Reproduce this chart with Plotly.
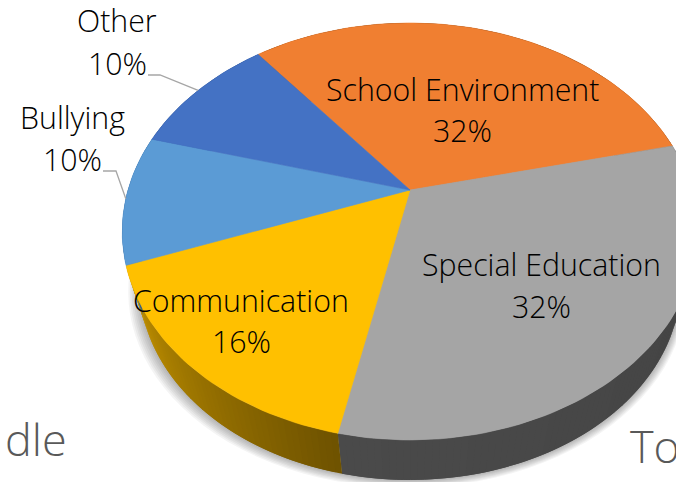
import math
import plotly.graph_objects as go

# Chart data
categories = ["School Environment", "Special Education", "Communication", "Bullying", "Other"]
shares = [32, 32, 16, 10, 10]
top_colors = ["#F07F31", "#A5A5A5", "#FFC000", "#5B9BD5", "#4472C4"]
side_left = ["#7A3E12", "#4A4A4A", "#C49300", "#2F5F8F", "#2A4A80"]
side_right = ["#7A3E12", "#424242", "#6E5200", "#2F5F8F", "#2A4A80"]

# Projection of the pie disc (pixel space)
START_DEG = 128.5
APEX_X, APEX_Y = 410, 190
SCALE_X, SCALE_Y, TILT = 282, 200.2, 0.199
BASE_SCALE, BASE_DROP = 0.94, 55


def project(angle_deg, r=1.0):
    a = math.radians(angle_deg)
    x, y = r * math.cos(a), r * math.sin(a)
    w = 1 + TILT * y
    return APEX_X + SCALE_X * x / w, APEX_Y - SCALE_Y * y / w


def project_base(angle_deg):
    x, y = project(angle_deg)
    return APEX_X + BASE_SCALE * (x - APEX_X), APEX_Y + BASE_DROP + BASE_SCALE * (y - APEX_Y)


def mix(c1, c2, t):
    a = [int(c1[i:i + 2], 16) for i in (1, 3, 5)]
    b = [int(c2[i:i + 2], 16) for i in (1, 3, 5)]
    return "rgb({},{},{})".format(*[round(p + (q - p) * t) for p, q in zip(a, b)])


def polygon(points, color, width=0.6):
    xs = [p[0] for p in points] + [points[0][0]]
    ys = [p[1] for p in points] + [points[0][1]]
    return go.Scatter(x=xs, y=ys, mode="lines", fill="toself", fillcolor=color,
                      line=dict(color=color, width=width), hoverinfo="skip", showlegend=False)


# Slice boundaries run clockwise from the start angle
edges = [START_DEG]
for v in shares:
    edges.append(edges[-1] - v * 3.6)

fig = go.Figure()

# Soft drop shadow beneath the base
for step in range(7, 0, -1):
    ring = []
    for d in range(0, 360, 3):
        x, y = project_base(d)
        ring.append((APEX_X + (x - APEX_X) * (1 + step * 0.0045) - step * 0.4, y + step * 1.1))
    fig.add_trace(polygon(ring, "rgba(0,0,0,0.045)", width=0))

# Side wall, shaded along each slice. Every band overlaps the next one,
# which is painted over it, so no seams show between bands.
for i in range(len(shares)):
    a0, a1 = edges[i], edges[i + 1]
    n = max(2, int((a0 - a1) / 1.2))
    step = (a1 - a0) / n
    for k in range(n):
        last = min(k + 2, n)
        stops = [a0 + step * j for j in range(k, last + 1)]
        color = mix(side_left[i], side_right[i], 1 - (k + 0.5) / n)
        outline = [project(u) for u in stops] + [project_base(u) for u in reversed(stops)]
        fig.add_trace(polygon(outline, color, width=0))

# Top face
for i in range(len(shares)):
    a0, a1 = edges[i], edges[i + 1]
    pts = [(APEX_X, APEX_Y)]
    n = int((a0 - a1) / 1.5)
    pts += [project(a0 + (a1 - a0) * k / n) for k in range(n + 1)]
    fig.add_trace(polygon(pts, top_colors[i]))


# Leader lines for the two outside labels
def leader(index, elbow, end):
    mid = (edges[index] + edges[index + 1]) / 2
    x, y = project(mid)
    fig.add_trace(go.Scatter(x=[x, elbow[0], end[0]], y=[y, elbow[1], end[1]], mode="lines",
                             line=dict(color="#A6A6A6", width=1.3), hoverinfo="skip", showlegend=False))


leader(3, (116, 171), (103, 171))
leader(4, (160, 75), (148, 75))

# Label anchors: centre x, name y, percent y
label_anchors = [(462, 89, 130), (541, 264, 306), (241, 300, 341), (72, 117, 159), (117, 20, 63)]
label_font = dict(family="Open Sans, Noto Sans, sans-serif", size=30.3, color="#000000", weight=300)
annotations = []
for name, value, (cx, y1, y2) in zip(categories, shares, label_anchors):
    for text, y in ((name, y1), (f"{value}%", y2)):
        annotations.append(dict(x=cx, y=y, text=text, showarrow=False, xref="x", yref="y",
                                xanchor="center", yanchor="middle", font=label_font))

# Neighbouring headings cut off by the frame
heading_font = dict(family="Open Sans, Noto Sans, sans-serif", size=45, color="#595959", weight=300)
annotations.append(dict(x=3, y=438, text="dle", showarrow=False, xanchor="left", yanchor="middle", font=heading_font))
annotations.append(dict(x=628, y=445, text="To", showarrow=False, xanchor="left", yanchor="middle", font=heading_font))

fig.update_layout(
    width=676, height=482, margin=dict(l=0, r=0, t=0, b=0),
    paper_bgcolor="white", plot_bgcolor="white", showlegend=False,
    xaxis=dict(range=[0, 676], visible=False, fixedrange=True),
    yaxis=dict(range=[482, 0], visible=False, fixedrange=True),
    annotations=annotations,
)
fig.write_html("out.html", config={"displayModeBar": False})
